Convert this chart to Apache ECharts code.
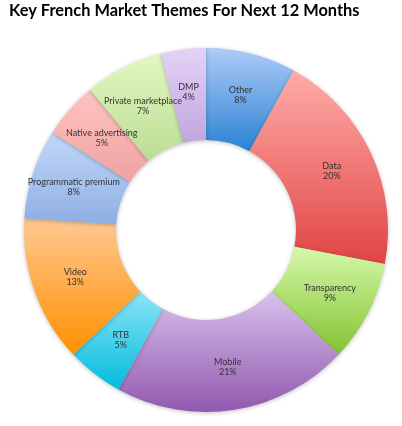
<!DOCTYPE html>
<html>
<head>
<meta charset="utf-8">
<script src="https://cdn.jsdelivr.net/npm/echarts@6/dist/echarts.min.js"></script>
<style>
html,body{margin:0;padding:0;background:#fff;}
#c{width:402px;height:426px;}
</style>
</head>
<body>
<div id="c"></div>
<script>
var categories = ['Other','Data','Transparency','Mobile','RTB','Video','Programmatic premium','Native advertising','Private marketplace','DMP'];
var values = [8,20,9,21,5,13,8,5,7,4];
var topColors = ['#aecbf8','#ffaca8','#d4f8a8','#d8c2ec','#8ce4f8','#ffc892','#c2d8fa','#ffc4c2','#e2f8c2','#e4d2f6'];
var bottomColors = ['#2a82d2','#e04444','#84c232','#9258ae','#00bcdc','#ff9000','#8eaee2','#f0a2a0','#bcdc94','#c0a6de'];

var data = categories.map(function(n,i){
  return {
    name:n, value:values[i],
    itemStyle:{color:{type:'linear',x:0,y:0,x2:0,y2:1,colorStops:[{offset:0,color:topColors[i]},{offset:1,color:bottomColors[i]}]}}
  };
});

var chart = echarts.init(document.getElementById('c'));
chart.setOption({
  animation:false,
  title:{
    text:'Key French Market Themes For Next 12 Months',
    left:4, top:-2,
    textStyle:{fontFamily:'Lato', fontWeight:'bold', fontSize:16.4, color:'#000'}
  },
  series:[{
    type:'pie',
    center:[206,230],
    radius:[90,182],
    startAngle:90,
    clockwise:true,
    avoidLabelOverlap:false,
    data:data,
    itemStyle:{shadowBlur:4, shadowColor:'rgba(0,0,0,0.25)', shadowOffsetY:1},
    label:{
      position:'inside',
      formatter:function(p){return p.name+'\n'+p.value+'%';},
      fontFamily:'Lato', fontSize:9, lineHeight:10, color:'#333'
    },
    labelLayout:{hideOverlap:false},
    labelLine:{show:false},
    emphasis:{disabled:true}
  }]
});
</script>
</body>
</html>
